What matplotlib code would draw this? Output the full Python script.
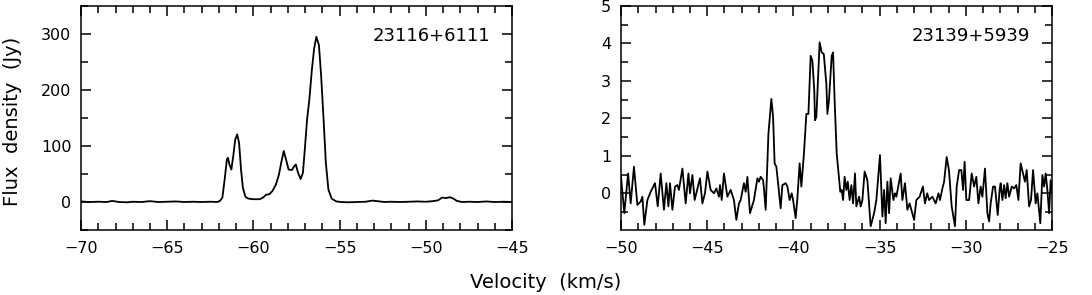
import matplotlib
matplotlib.use('Agg')
import matplotlib.pyplot as plt
from matplotlib.ticker import MultipleLocator

# 23116+6111 spectrum (velocity in km/s, flux in Jy)
vel_a = [-70.0, -69.5, -69.0, -68.5, -68.2, -67.8, -67.3, -67.0, -66.5, -66.0,
         -65.5, -65.0, -64.5, -64.0, -63.5, -63.0, -62.5, -62.1,
         -61.94, -61.80, -61.67, -61.54, -61.48, -61.39, -61.28, -61.17, -61.06,
         -60.94, -60.83, -60.72, -60.61, -60.46, -60.28, -60.00, -59.63, -59.44,
         -59.26, -59.07, -58.89, -58.70, -58.52, -58.39, -58.24, -58.11, -57.96,
         -57.78, -57.65, -57.54, -57.41, -57.26, -57.13, -57.02, -56.89, -56.76,
         -56.61, -56.48, -56.35, -56.20, -56.07, -55.93, -55.80, -55.65, -55.46,
         -55.19, -54.91, -54.5, -54.0, -53.5, -53.1, -52.8, -52.4, -52.0, -51.5,
         -51.0, -50.5, -50.0, -49.6, -49.3, -49.05, -48.85, -48.6, -48.4, -48.2,
         -47.9, -47.5, -47.0, -46.5, -46.0, -45.5, -45.0]
flux_a = [1, 0, 0.5, 0, 2, 0, -0.5, 0.5, 0, 1.5,
          0, 0.5, 1, 0, 0.5, 0, 0.5, 0,
          2, 8, 40, 76, 79, 67, 58, 82, 111,
          121, 105, 58, 25, 9, 6, 5, 5, 8,
          13, 14, 20, 31, 49, 70, 91, 76, 58,
          57, 63, 67, 52, 41, 52, 94, 147, 182,
          236, 274, 295, 280, 224, 147, 70, 22, 6,
          1, 0, -0.5, 0, 0.5, 2.5, 1.5, 0, 0.5, 0,
          0.5, 1, 0.5, 1.5, 3, 8, 7, 8.5, 6, 2,
          0, 0.5, 0, 1, 0, 0.5, 0]

# 23139+5939 spectrum
vel_b = [-50.00, -49.81, -49.59, -49.44, -49.25, -49.05, -48.86, -48.76, -48.65, -48.47,
         -48.28, -48.03, -47.87, -47.70, -47.51, -47.37, -47.25, -47.16, -47.02, -46.87,
         -46.73, -46.64, -46.44, -46.25, -46.09, -46.00, -45.86, -45.73, -45.42, -45.28,
         -45.13, -44.99, -44.80, -44.61, -44.47, -44.32, -44.26, -44.16, -44.03, -43.83,
         -43.64, -43.45, -43.31, -43.16, -43.06, -42.87, -42.77, -42.67, -42.52, -42.29,
         -42.09, -42.00, -41.90, -41.76, -41.71, -41.61, -41.45, -41.28, -41.18, -41.09,
         -40.99, -40.87, -40.74, -40.64, -40.45, -40.35, -40.22, -40.10, -40.02, -39.87,
         -39.77, -39.64, -39.54, -39.39, -39.25, -39.13, -39.00, -38.90, -38.79, -38.75,
         -38.67, -38.55, -38.48, -38.36, -38.24, -38.09, -38.03, -37.94, -37.78, -37.70,
         -37.61, -37.49, -37.36, -37.28, -37.20, -37.12, -37.03, -36.93, -36.85, -36.74,
         -36.64, -36.54, -36.43, -36.35, -36.19, -36.10, -36.00, -35.87, -35.71, -35.52,
         -35.32, -35.19, -34.98, -34.84, -34.74, -34.65, -34.55, -34.45, -34.36, -34.20,
         -34.11, -34.03, -33.78, -33.68, -33.53, -33.39, -33.26, -33.00, -32.87, -32.68,
         -32.49, -32.37, -32.24, -32.13, -31.94, -31.75, -31.59, -31.50, -31.36, -31.26,
         -31.11, -30.98, -30.82, -30.63, -30.53, -30.39, -30.26, -30.16, -30.07, -29.97,
         -29.81, -29.66, -29.52, -29.39, -29.27, -29.14, -29.04, -28.89, -28.75, -28.65,
         -28.56, -28.42, -28.31, -28.15, -28.04, -27.98, -27.88, -27.78, -27.69, -27.59,
         -27.49, -27.34, -27.20, -27.07, -26.95, -26.82, -26.68, -26.57, -26.47, -26.33,
         -26.22, -26.10, -25.95, -25.85, -25.68, -25.56, -25.46, -25.37, -25.27, -25.17,
         -25.08, -25.00]
flux_b = [0.44, -0.53, 0.53, -0.27, 0.71, -0.31, -0.22, -0.09, -0.84, -0.18,
          0.04, 0.27, -0.35, 0.53, -0.44, 0.27, -0.35, 0.27, -0.44, 0.18,
          0.22, 0.09, 0.66, -0.27, 0.53, 0.00, 0.49, -0.18, 0.40, -0.27,
          0.00, 0.58, 0.09, 0.00, 0.13, -0.09, 0.22, -0.18, 0.53, -0.09,
          0.09, -0.18, -0.71, -0.27, -0.18, 0.27, 0.04, 0.44, -0.53, -0.18,
          0.40, 0.31, 0.44, 0.35, 0.13, -0.44, 1.59, 2.52, 2.04, 0.80,
          0.71, 0.18, -0.40, 0.22, 0.27, 0.18, -0.18, 0.00, -0.18, -0.66,
          -0.13, 0.80, 0.18, 1.06, 2.12, 2.12, 3.67, 3.54, 2.74, 1.95,
          2.04, 3.27, 4.03, 3.76, 3.72, 2.92, 2.12, 2.48, 3.67, 3.76,
          2.48, 1.06, 0.44, 0.04, 0.09, -0.18, 0.44, 0.09, 0.31, -0.18,
          0.22, -0.27, 0.53, -0.35, -0.09, -0.35, -0.18, 0.58, 0.35, -0.88,
          -0.53, -0.18, 1.02, -0.62, 0.09, -0.80, 0.31, -0.53, 0.40, -0.18,
          0.00, -0.09, 0.53, -0.18, 0.27, -0.44, -0.27, -0.71, -0.18, -0.09,
          0.18, -0.27, 0.00, -0.18, -0.09, -0.27, 0.00, -0.18, 0.13, 0.31,
          0.97, 0.62, -0.35, -0.88, 0.18, 0.62, 0.62, 0.09, 0.84, -0.18,
          -0.18, 0.53, 0.18, 0.44, -0.27, 0.18, -0.09, 0.66, -0.53, -0.75,
          -0.27, 0.18, 0.18, -0.58, 0.09, 0.27, -0.18, 0.22, -0.13, 0.27,
          -0.09, 0.18, 0.13, 0.22, -0.18, 0.80, 0.53, 0.31, 0.62, -0.35,
          -0.18, 0.62, -0.27, 0.00, -0.80, 0.49, 0.18, 0.53, 0.09, -0.53,
          0.35, 0.00]

names = ['23116+6111', '23139+5939']

fig = plt.figure(figsize=(10.92, 2.95), dpi=100)
ax1 = fig.add_axes([0.0742, 0.2203, 0.3947, 0.7593])
ax2 = fig.add_axes([0.5687, 0.2203, 0.3947, 0.7593])

ax1.plot(vel_a, flux_a, color='black', lw=1.3)
ax1.set_xlim(-70, -45)
ax1.set_ylim(-50, 350)
ax1.xaxis.set_major_locator(MultipleLocator(5))
ax1.xaxis.set_minor_locator(MultipleLocator(1))
ax1.yaxis.set_major_locator(MultipleLocator(100))
ax1.yaxis.set_minor_locator(MultipleLocator(50))

ax2.plot(vel_b, flux_b, color='black', lw=1.3)
ax2.set_xlim(-50, -25)
ax2.set_ylim(-0.98, 5)
ax2.xaxis.set_major_locator(MultipleLocator(5))
ax2.xaxis.set_minor_locator(MultipleLocator(1))
ax2.yaxis.set_major_locator(MultipleLocator(1))
ax2.yaxis.set_minor_locator(MultipleLocator(0.5))

for ax, name in zip([ax1, ax2], names):
    for s in ax.spines.values():
        s.set_linewidth(1.1)
    ax.tick_params(which='both', direction='in', top=True, right=True,
                   width=1.1, labelsize=11.5)
    ax.tick_params(axis='x', pad=8)
    ax.tick_params(axis='y', pad=7)
    ax.tick_params(which='major', length=7)
    ax.tick_params(which='minor', length=5)
    ax.text(0.95, 0.866, name, transform=ax.transAxes, ha='right',
            va='center', fontsize=13)

fig.text(0.5, 0.044, 'Velocity  (km/s)', ha='center', va='center', fontsize=14)
fig.text(0.011, 0.59, 'Flux  density  (Jy)', ha='center', va='center',
         rotation=90, fontsize=14)

fig.savefig('out.png', dpi=100)
